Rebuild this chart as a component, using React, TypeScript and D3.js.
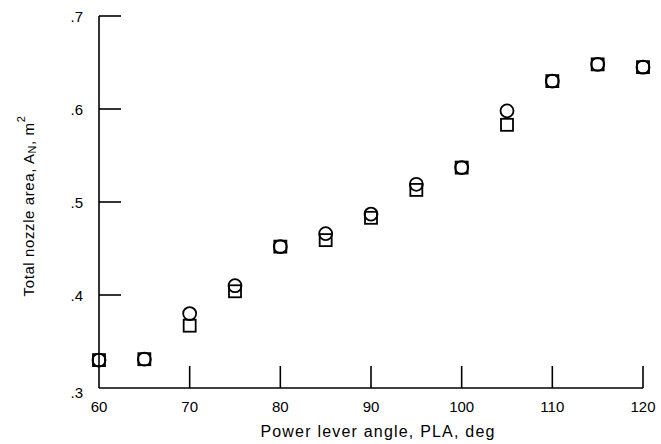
import React from "react";
import * as d3 from "d3";

const angles = [60, 65, 70, 75, 80, 85, 90, 95, 100, 105, 110, 115, 120];
const circleArea = [0.330, 0.331, 0.380, 0.410, 0.452, 0.466, 0.487, 0.519, 0.537, 0.598, 0.630, 0.648, 0.645];
const squareArea = [0.330, 0.331, 0.367, 0.404, 0.452, 0.459, 0.483, 0.513, 0.537, 0.583, 0.630, 0.648, 0.645];
const xTicks = [60, 70, 80, 90, 100, 110, 120];
const yTicks = [0.3, 0.4, 0.5, 0.6, 0.7];
const yTickLabels = [".3", ".4", ".5", ".6", ".7"];

const W = 661;
const H = 444;
const font = "'Liberation Sans', Arial, sans-serif";

export default function App() {
  const x = d3.scaleLinear().domain([60, 120]).range([99, 643]);
  const y = d3.scaleLinear().domain([0.3, 0.7]).range([388, 16]);
  const tickLen = 22;
  return (
    <svg width={W} height={H} style={{ position: "absolute", left: 0, top: 0, background: "#fff" }}>
      <rect x={0} y={0} width={W} height={H} fill="#fff" />
      {/* axes */}
      <line x1={x(60)} x2={x(60)} y1={y(0.7)} y2={y(0.3)} stroke="#000" strokeWidth={1.6} />
      <line x1={x(60)} x2={x(120)} y1={y(0.3)} y2={y(0.3)} stroke="#000" strokeWidth={1.6} />
      {yTicks.map((t, i) => (
        <g key={"y" + t}>
          {i > 0 && (
            <line x1={x(60)} x2={x(60) + tickLen} y1={y(t)} y2={y(t)} stroke="#000" strokeWidth={1.6} />
          )}
          <text
            x={83}
            y={y(t) + (i === 0 ? 4 : 0)}
            fontFamily={font}
            fontSize={15}
            textAnchor="end"
            dominantBaseline="central"
          >
            {yTickLabels[i]}
          </text>
        </g>
      ))}
      {xTicks.map((t, i) => (
        <g key={"x" + t}>
          {i > 0 && (
            <line x1={x(t)} x2={x(t)} y1={y(0.3)} y2={y(0.3) - tickLen} stroke="#000" strokeWidth={1.6} />
          )}
          <text
            x={x(t)}
            y={406}
            fontFamily={font}
            fontSize={15}
            textAnchor="middle"
            dominantBaseline="central"
          >
            {t}
          </text>
        </g>
      ))}
      <text x={378} y={431} fontFamily={font} fontSize={16} textAnchor="middle" dominantBaseline="central" letterSpacing={1.2}>
        Power lever angle, PLA, deg
      </text>
      <text
        transform={`translate(28,206) rotate(-90)`}
        fontFamily={font}
        fontSize={15}
        textAnchor="middle"
        dominantBaseline="central"
        letterSpacing={0.6}
      >
        Total nozzle area, A<tspan fontSize={11} dy={4}>N</tspan>
        <tspan dy={-4}>, m</tspan>
        <tspan fontSize={11} dy={-7}>2</tspan>
      </text>
      {/* squares */}
      {angles.map((a, i) => (
        <rect
          key={"s" + a}
          x={x(a) - 6}
          y={y(squareArea[i]) - 6}
          width={12}
          height={12}
          fill="none"
          stroke="#000"
          strokeWidth={1.8}
        />
      ))}
      {/* circles */}
      {angles.map((a, i) => (
        <circle key={"c" + a} cx={x(a)} cy={y(circleArea[i])} r={6.5} fill="none" stroke="#000" strokeWidth={1.8} />
      ))}
    </svg>
  );
}
